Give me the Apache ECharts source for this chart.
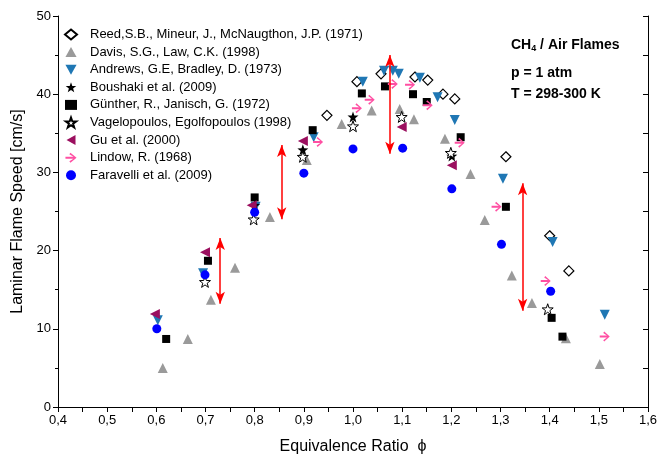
<!DOCTYPE html>
<html><head><meta charset="utf-8">
<script src="https://cdn.jsdelivr.net/npm/echarts@6/dist/echarts.min.js"></script>
<style>html,body{margin:0;padding:0;background:#fff}#c{width:657px;height:457px}</style>
</head><body><div id="c"></div>
<script>
const seriesNames = ['Reed,S.B., Mineur, J., McNaugthon, J.P. (1971)','Davis, S.G., Law, C.K. (1998)','Andrews, G.E, Bradley, D. (1973)','Boushaki et al. (2009)','Günther, R., Janisch, G. (1972)','Vagelopoulos, Egolfopoulos (1998)','Gu et al. (2000)','Lindow, R. (1968)','Faravelli et al. (2009)'];
const reed = [[0.947,37.3],[1.008,41.6],[1.057,42.6],[1.126,42.2],[1.152,41.8],[1.183,40.0],[1.207,39.4],[1.311,32.0],[1.40,21.9],[1.439,17.4]];
const davis = [[0.613,5.0],[0.664,8.7],[0.711,13.7],[0.76,17.8],[0.831,24.3],[0.906,31.6],[0.977,36.2],[1.038,37.9],[1.095,38.1],[1.124,36.8],[1.187,34.3],[1.239,29.8],[1.268,23.9],[1.323,16.8],[1.364,13.3],[1.433,8.8],[1.502,5.5]];
const andrews = [[0.603,11.1],[0.695,17.1],[0.802,25.6],[0.92,34.5],[1.02,41.6],[1.063,43.0],[1.081,43.0],[1.093,42.6],[1.136,42.1],[1.172,39.6],[1.207,36.7],[1.305,29.2],[1.406,21.1],[1.512,11.8]];
const boushaki = [[0.8,25.8],[0.898,32.9],[1.0,37.1],[1.201,32.1]];
const gunther = [[0.62,8.7],[0.705,18.7],[0.8,26.8],[0.918,35.4],[1.018,40.1],[1.065,41.0],[1.122,40.0],[1.15,39.0],[1.219,34.5],[1.311,25.6],[1.404,11.4],[1.426,9.0]];
const vagelopoulos = [[0.699,16.0],[0.798,24.0],[0.898,32.0],[1.0,35.9],[1.099,37.1],[1.199,32.5],[1.396,12.5]];
const gu = [[0.597,11.9],[0.699,19.8],[0.794,25.8],[0.898,34.0],[1.099,35.8],[1.201,30.9]];
const lindow = [[0.929,33.9],[1.008,38.2],[1.034,39.3],[1.081,41.3],[1.116,41.2],[1.152,38.6],[1.217,33.8],[1.292,25.6],[1.392,16.1],[1.512,9.0]];
const faravelli = [[0.601,10.0],[0.699,16.9],[0.8,24.9],[0.9,29.9],[1.0,33.0],[1.101,33.1],[1.201,27.9],[1.302,20.8],[1.402,14.8]];
const arrowX = [0.73,0.855,1.075,1.345];
const arrowLow = [13.2,24.0,32.4,12.3];
const arrowHigh = [21.6,33.5,45.0,28.6];
const xTicks = {min:0.4,max:1.6,step:0.1};
const yTicks = {min:0,max:50,step:10};

const STAR = 'path://M50,0 L61.76,33.82 L97.55,34.55 L69.02,56.18 L79.39,90.45 L50,70 L20.61,90.45 L30.98,56.18 L2.45,34.55 L38.24,33.82 Z';
const HOOK = 'path://M45,5 L100,50 L45,95 L35,82 L72,59 L0,59 L0,41 L72,41 L35,18 Z';
const TRI_UP = 'path://M50,0 L100,90 L0,90 Z';
const TRI_DOWN = 'path://M0,0 L100,0 L50,90 Z';
const TRI_LEFT = 'path://M90,0 L90,100 L0,50 Z';
const FONT = 'Liberation Sans, Arial, sans-serif';

function sc(name, data, symbol, size, color, extra) {
  return Object.assign({
    type:'scatter', name, data, symbol, symbolSize:size,
    itemStyle:{color:color, opacity:1}, xAxisIndex:0, yAxisIndex:0
  }, extra||{});
}
const arrowData = arrowX.map((x,i)=>[{coord:[x,arrowLow[i]]},{coord:[x,arrowHigh[i]]}]);

const series = [
  sc(seriesNames[0], reed, 'diamond', 10, '#fff', {itemStyle:{color:'#fff',borderColor:'#000',borderWidth:1.2,opacity:1}}),
  sc(seriesNames[1], davis, TRI_UP, 10, '#9a9a9a'),
  sc(seriesNames[2], andrews, TRI_DOWN, 10, '#1f77b4'),
  sc(seriesNames[3], boushaki, STAR, 11, '#000'),
  sc(seriesNames[4], gunther, 'rect', 8, '#000'),
  sc(seriesNames[5], vagelopoulos, STAR, 11, '#fff', {itemStyle:{color:'#fff',borderColor:'#000',borderWidth:1,opacity:1}}),
  sc(seriesNames[6], gu, TRI_LEFT, 10, '#9b0f5f'),
  sc(seriesNames[7], lindow, HOOK, 10, '#ff4fa3'),
  sc(seriesNames[8], faravelli, 'circle', 9, '#0000ff'),
  {type:'scatter', name:'arrows', data:[], xAxisIndex:0, yAxisIndex:0, silent:true,
   markLine:{silent:true, symbol:['arrow','arrow'], symbolSize:[7,12], label:{show:false},
     lineStyle:{color:'#ff0000', width:1.5, type:'solid'}, data: arrowData, animation:false}}
];

const chart = echarts.init(document.getElementById('c'), null, {renderer:'canvas'});
chart.setOption({
  animation:false,
  backgroundColor:'#fff',
  textStyle:{fontFamily:FONT},
  grid:{left:58, right:9, top:16, bottom:50, containLabel:false, outerBoundsMode:'none'},
  legend:{
    data: seriesNames, orient:'vertical', left:59, top:23, itemWidth:12, itemHeight:10, itemGap:4.6,
    textStyle:{fontSize:13, color:'#000', fontFamily:FONT, padding:[0,0,0,8]}, selectedMode:false
  },
  xAxis:[
    {type:'value', min:xTicks.min, max:xTicks.max, interval:xTicks.step, position:'bottom',
     name:'Equivalence Ratio  ϕ', nameLocation:'middle', nameGap:32,
     nameTextStyle:{fontSize:16, color:'#000', fontFamily:FONT},
     axisLine:{lineStyle:{color:'#000', width:1}},
     axisTick:{inside:false, length:5, lineStyle:{color:'#000'}},
     minorTick:{show:true, splitNumber:2, length:3, lineStyle:{color:'#000'}},
     splitLine:{show:false},
     axisLabel:{fontSize:13, color:'#000', margin:7, formatter:v=>v.toFixed(1).replace('.',',')}},
    {type:'value', min:xTicks.min, max:xTicks.max, interval:0.05, position:'top',
     axisLine:{lineStyle:{color:'#000', width:1}},
     axisTick:{inside:true, length:5, lineStyle:{color:'#000'}},
     splitLine:{show:false}, axisLabel:{show:false}}
  ],
  yAxis:[
    {type:'value', min:yTicks.min, max:yTicks.max, interval:yTicks.step, position:'left',
     name:'Laminar Flame Speed [cm/s]', nameLocation:'middle', nameGap:31, nameRotate:90,
     nameTextStyle:{fontSize:16, color:'#000', fontFamily:FONT},
     axisLine:{show:true, lineStyle:{color:'#000', width:1}},
     axisTick:{show:true, inside:false, length:5, lineStyle:{color:'#000'}},
     minorTick:{show:true, splitNumber:2, length:3, lineStyle:{color:'#000'}},
     splitLine:{show:false},
     axisLabel:{fontSize:13, color:'#000', margin:7}},
    {type:'value', min:yTicks.min, max:yTicks.max, interval:5, position:'right',
     axisLine:{show:true, lineStyle:{color:'#000', width:1}},
     axisTick:{show:true, inside:true, length:5, lineStyle:{color:'#000'}},
     splitLine:{show:false}, axisLabel:{show:false}}
  ],
  graphic:[
    {type:'text', left:511, top:38, style:{
      text:'{a|CH}{s|4}{a| / Air Flames}',
      rich:{a:{fontSize:14, fontWeight:'bold', fontFamily:FONT, fill:'#000'},
            s:{fontSize:9, fontWeight:'bold', fontFamily:FONT, fill:'#000', padding:[8,0,0,0]}}}},
    {type:'text', left:511, top:66, style:{text:'p = 1 atm', font:'bold 14px '+FONT, fill:'#000'}},
    {type:'text', left:511, top:87, style:{text:'T = 298-300 K', font:'bold 14px '+FONT, fill:'#000'}}
  ],
  series: series
});
</script></body></html>
